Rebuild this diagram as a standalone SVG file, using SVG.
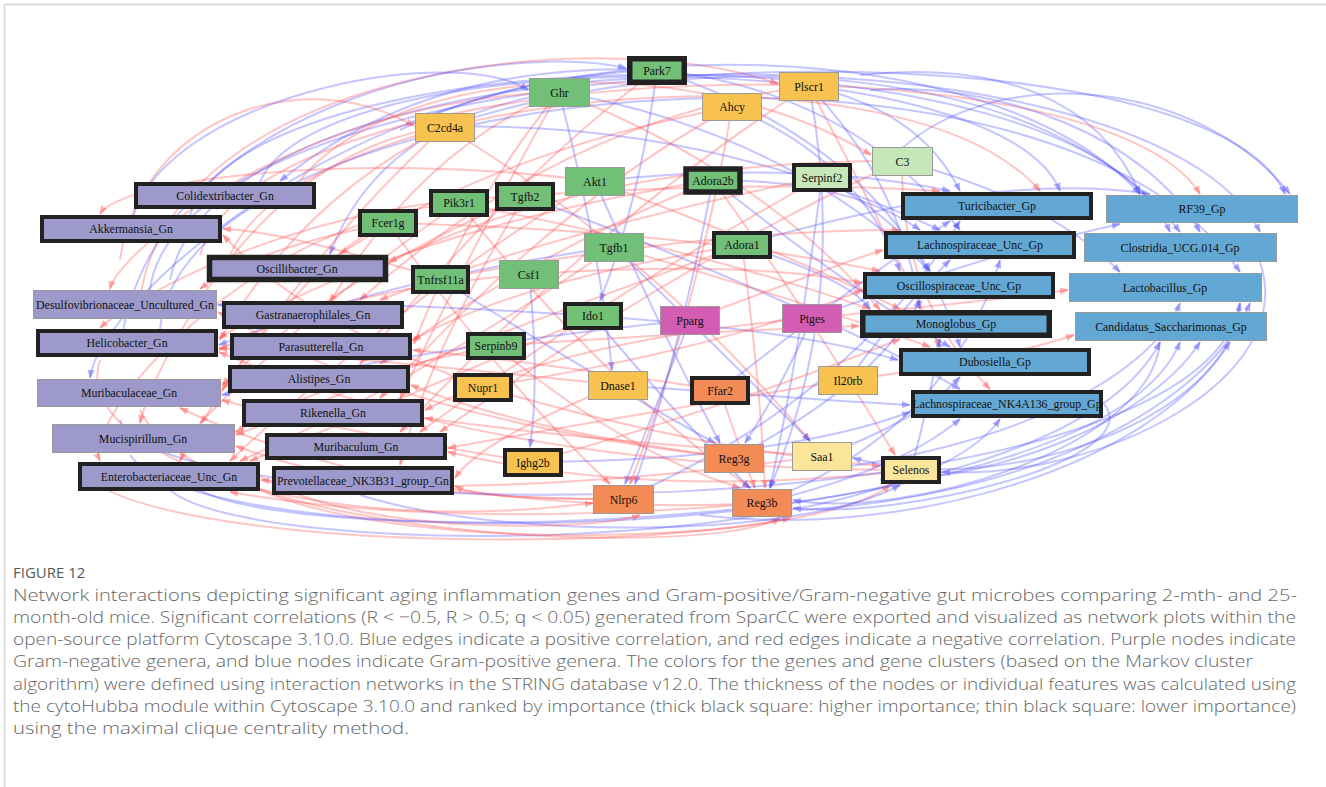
<svg xmlns="http://www.w3.org/2000/svg" width="1326" height="787" viewBox="0 0 1326 787">
<style>
.e{fill:none;stroke-width:2}
.r{stroke:#ff5050;stroke-opacity:0.33;marker-end:url(#ar)}
.b{stroke:#5050ff;stroke-opacity:0.33;marker-end:url(#ab)}
.thin{stroke:#9a9a9a;stroke-width:1}
.thick{stroke:#222;stroke-width:4}
.vthick{stroke:#222;stroke-width:5.5}
.pu{fill:#9d9acb}.bl{fill:#63a8d4}.gr{fill:#72bf78}.lg{fill:#c6e7b7}.or{fill:#f7c24f}.co{fill:#f28b55}.ly{fill:#fbe59b}.mg{fill:#d35db2}
.lb{font-family:"Liberation Serif","Times New Roman",serif;font-size:13.5px;text-anchor:middle;fill:#111;transform-box:fill-box;transform-origin:center;transform:scaleX(0.88)}
.cap{font-family:"Open Sans","Noto Sans",sans-serif;font-size:17px;font-weight:300;fill:#666}
.fig{font-family:"Open Sans","Noto Sans",sans-serif;font-size:15px;fill:#595959}
</style>
<defs>
<marker id="ar" viewBox="0 0 10 10" refX="9" refY="5" markerWidth="9" markerHeight="9" markerUnits="userSpaceOnUse" orient="auto"><path d="M0,1 L10,5 L0,9z" fill="#ff5050" fill-opacity="0.45"/></marker>
<marker id="ab" viewBox="0 0 10 10" refX="9" refY="5" markerWidth="9" markerHeight="9" markerUnits="userSpaceOnUse" orient="auto"><path d="M0,1 L10,5 L0,9z" fill="#5050ff" fill-opacity="0.45"/></marker>
</defs>
<rect width="1326" height="787" fill="#fff"/>
<path d="M4.5 787 V4.5 H1326" fill="none" stroke="#d4d4d4" stroke-width="1.5"/>
<g id="edges">
<path class="e r" d="M559 92 Q420 150 330 302"/>
<path class="e r" d="M559 92 Q470 200 414 344"/>
<path class="e r" d="M559 92 Q480 230 400 399"/>
<path class="e b" d="M559 92 Q780 130 930 271"/>
<path class="e r" d="M559 92 Q760 170 880 310"/>
<path class="e b" d="M559 92 Q600 250 612 370"/>
<path class="e b" d="M559 92 Q380 120 330 254"/>
<path class="e b" d="M657 70 Q430 60 280 181"/>
<path class="e b" d="M657 70 Q850 90 960 230"/>
<path class="e b" d="M657 70 Q640 200 600 301"/>
<path class="e r" d="M657 70 Q520 170 360 364"/>
<path class="e b" d="M657 70 Q900 150 960 347"/>
<path class="e r" d="M809 86 Q560 120 360 300"/>
<path class="e b" d="M809 86 Q920 110 960 191"/>
<path class="e b" d="M809 86 Q900 180 920 309"/>
<path class="e r" d="M809 86 Q600 220 400 432"/>
<path class="e b" d="M809 86 Q850 300 770 488"/>
<path class="e r" d="M809 86 Q880 220 940 347"/>
<path class="e r" d="M732 107 Q500 150 340 254"/>
<path class="e b" d="M732 107 Q860 160 900 271"/>
<path class="e r" d="M732 107 Q700 300 630 484"/>
<path class="e r" d="M732 107 Q560 200 380 398"/>
<path class="e r" d="M445 127 Q300 200 220 340"/>
<path class="e r" d="M445 127 Q330 230 222 390"/>
<path class="e b" d="M445 127 Q700 120 940 230"/>
<path class="e r" d="M445 127 Q650 250 810 441"/>
<path class="e r" d="M902 161 Q600 160 389 262"/>
<path class="e b" d="M902 161 Q1050 200 1120 272"/>
<path class="e r" d="M902 161 Q900 300 990 389"/>
<path class="e r" d="M902 161 Q700 250 440 432"/>
<path class="e r" d="M595 181 Q400 300 230 461"/>
<path class="e b" d="M595 181 Q800 160 950 191"/>
<path class="e r" d="M595 181 Q780 250 900 309"/>
<path class="e b" d="M595 181 Q660 330 720 443"/>
<path class="e r" d="M713 180 Q400 230 219 338"/>
<path class="e b" d="M713 180 Q850 180 920 230"/>
<path class="e b" d="M713 180 Q850 290 950 347"/>
<path class="e r" d="M713 180 Q820 330 895 455"/>
<path class="e r" d="M713 180 Q520 260 380 364"/>
<path class="e b" d="M713 180 Q680 350 635 484"/>
<path class="e r" d="M822 177 Q600 300 420 432"/>
<path class="e b" d="M822 177 Q900 220 930 271"/>
<path class="e r" d="M822 177 Q560 230 380 300"/>
<path class="e b" d="M822 177 Q800 350 770 488"/>
<path class="e r" d="M459 203 Q700 250 870 309"/>
<path class="e r" d="M459 203 Q320 300 200 423"/>
<path class="e r" d="M459 203 Q600 380 750 488"/>
<path class="e r" d="M525 196 Q330 280 222 385"/>
<path class="e r" d="M525 196 Q760 180 940 191"/>
<path class="e r" d="M525 196 Q430 350 400 465"/>
<path class="e b" d="M525 196 Q800 300 960 389"/>
<path class="e r" d="M388 223 Q680 230 880 271"/>
<path class="e r" d="M388 223 Q250 250 200 289"/>
<path class="e r" d="M388 223 Q500 380 610 484"/>
<path class="e b" d="M614 247 Q380 280 219 345"/>
<path class="e r" d="M614 247 Q800 300 930 347"/>
<path class="e b" d="M614 247 Q720 350 810 441"/>
<path class="e r" d="M614 247 Q420 380 240 461"/>
<path class="e r" d="M742 245 Q520 280 413 340"/>
<path class="e b" d="M742 245 Q850 280 870 309"/>
<path class="e r" d="M742 245 Q760 380 765 488"/>
<path class="e r" d="M742 245 Q450 350 236 435"/>
<path class="e b" d="M742 245 Q1000 170 1150 194"/>
<path class="e r" d="M440 279 Q700 230 900 230"/>
<path class="e r" d="M440 279 Q280 230 223 229"/>
<path class="e b" d="M440 279 Q600 380 715 443"/>
<path class="e r" d="M529 274 Q330 290 219 350"/>
<path class="e r" d="M529 274 Q750 260 862 283"/>
<path class="e b" d="M529 274 Q540 380 530 447"/>
<path class="e r" d="M593 316 Q400 400 250 461"/>
<path class="e b" d="M593 316 Q800 330 898 360"/>
<path class="e b" d="M593 316 Q350 300 218 305"/>
<path class="e b" d="M593 316 Q680 420 750 488"/>
<path class="e b" d="M690 320 Q400 350 222 395"/>
<path class="e r" d="M690 320 Q850 260 883 250"/>
<path class="e b" d="M690 320 Q650 420 625 484"/>
<path class="e r" d="M812 318 Q560 340 425 410"/>
<path class="e r" d="M812 318 Q1000 300 1068 290"/>
<path class="e b" d="M812 318 Q780 390 745 443"/>
<path class="e b" d="M812 318 Q1000 250 1120 224"/>
<path class="e r" d="M496 346 Q730 330 859 326"/>
<path class="e r" d="M496 346 Q320 380 236 432"/>
<path class="e r" d="M496 346 Q620 450 740 488"/>
<path class="e r" d="M483 387 Q300 320 223 235"/>
<path class="e r" d="M483 387 Q720 350 862 290"/>
<path class="e r" d="M483 387 Q700 450 880 466"/>
<path class="e r" d="M618 385 Q380 360 219 348"/>
<path class="e b" d="M618 385 Q820 400 910 405"/>
<path class="e r" d="M618 385 Q480 440 455 478"/>
<path class="e r" d="M720 390 Q520 360 413 350"/>
<path class="e b" d="M720 390 Q860 280 950 221"/>
<path class="e r" d="M720 390 Q740 450 755 488"/>
<path class="e r" d="M848 380 Q600 420 448 448"/>
<path class="e b" d="M848 380 Q900 310 950 260"/>
<path class="e r" d="M848 380 Q1000 360 1074 335"/>
<path class="e r" d="M533 462 Q750 400 900 339"/>
<path class="e r" d="M533 462 Q330 430 222 400"/>
<path class="e b" d="M533 462 Q780 460 910 412"/>
<path class="e r" d="M734 458 Q520 430 411 385"/>
<path class="e b" d="M734 458 Q880 380 920 300"/>
<path class="e r" d="M734 458 Q400 420 218 312"/>
<path class="e r" d="M822 456 Q500 500 261 480"/>
<path class="e b" d="M822 456 Q920 420 960 377"/>
<path class="e r" d="M822 456 Q580 440 425 418"/>
<path class="e r" d="M911 470 Q650 500 448 452"/>
<path class="e b" d="M911 470 Q930 400 940 339"/>
<path class="e r" d="M911 470 Q500 470 219 352"/>
<path class="e r" d="M623 499 Q480 500 455 486"/>
<path class="e b" d="M623 499 Q850 400 960 221"/>
<path class="e r" d="M623 499 Q380 500 236 446"/>
<path class="e r" d="M762 503 Q450 530 230 492"/>
<path class="e b" d="M762 503 Q950 430 1000 260"/>
<path class="e b" d="M762 503 Q900 470 960 419"/>
<path class="e r" d="M762 503 Q420 520 180 408"/>
<path class="e b" d="M150 290 C180 40 1200 0 1285 194"/>
<path class="e b" d="M170 280 C220 20 1150 10 1260 232"/>
<path class="e r" d="M200 255 C260 50 1100 30 1200 194"/>
<path class="e b" d="M190 215 C250 30 1080 20 1170 232"/>
<path class="e b" d="M260 182 C320 40 1000 40 1060 191"/>
<path class="e r" d="M230 255 C300 90 900 30 1040 191"/>
<path class="e b" d="M160 330 C180 80 1050 -10 1240 272"/>
<path class="e r" d="M140 300 C170 70 600 20 778 84"/>
<path class="e b" d="M120 350 C150 100 500 40 626 68"/>
<path class="e b" d="M400 130 C600 30 1000 40 1140 194"/>
<path class="e r" d="M300 180 C400 60 700 50 871 155"/>
<path class="e b" d="M900 150 C1000 60 1200 80 1290 194"/>
<path class="e b" d="M860 75 C1000 60 1100 100 1140 194"/>
<path class="e b" d="M870 90 C1000 80 1150 140 1200 232"/>
<path class="e r" d="M120 260 C140 120 300 60 414 126"/>
<path class="e b" d="M130 230 C150 100 450 40 528 90"/>
<path class="e b" d="M170 490 C250 560 900 560 1000 419"/>
<path class="e b" d="M130 455 C200 560 1050 560 1160 342"/>
<path class="e r" d="M80 470 C150 560 800 560 890 485"/>
<path class="e r" d="M140 410 C200 540 700 560 780 518"/>
<path class="e r" d="M260 490 C400 550 700 540 790 518"/>
<path class="e b" d="M360 495 C500 540 800 540 900 485"/>
<path class="e b" d="M200 490 C300 550 1100 540 1180 342"/>
<path class="e b" d="M120 420 C150 530 1200 540 1240 303"/>
<path class="e r" d="M250 470 C350 540 600 530 640 515"/>
<path class="e b" d="M880 480 C1000 480 1150 420 1200 342"/>
<path class="e b" d="M800 510 C1000 500 1200 420 1250 303"/>
<path class="e b" d="M820 470 C1000 450 1150 380 1180 303"/>
<path class="e b" d="M700 515 C900 540 1150 470 1230 342"/>
<path class="e r" d="M100 360 C70 450 300 540 593 503"/>
<path class="e b" d="M1104 404 C1150 460 900 520 793 508"/>
<path class="e b" d="M1160 342 C1150 450 900 520 793 500"/>
<path class="e b" d="M1240 303 C1230 420 1000 500 853 458"/>
<path class="e b" d="M1260 262 C1300 380 1100 480 942 472"/>
<path class="e r" d="M388 223 C300 260 200 420 180 461"/>
<path class="e r" d="M445 127 C250 150 150 380 140 423"/>
<path class="e r" d="M559 92 C300 100 120 250 110 289"/>
<path class="e r" d="M525 196 C300 200 130 300 100 328"/>
<path class="e b" d="M657 70 C350 80 100 300 90 378"/>
<path class="e r" d="M459 203 C250 220 80 420 100 461"/>
<path class="e r" d="M595 181 C350 150 120 180 100 214"/>
<path class="e b" d="M445 127 C700 40 1050 60 1180 232"/>
</g>
<g id="n-colidextribacter"><rect class="pu thick" x="136" y="184" width="178" height="23"/><text class="lb" x="225" y="200">Colidextribacter_Gn</text></g>
<g id="n-akkermansia"><rect class="pu thick" x="42" y="217" width="178" height="24"/><text class="lb" x="131" y="233">Akkermansia_Gn</text></g>
<g id="n-oscillibacter"><rect class="pu vthick" x="209.5" y="257.5" width="176" height="22"/><text class="lb" x="297" y="273">Oscillibacter_Gn</text></g>
<g id="n-desulfovibrionaceae"><rect class="pu thin" x="33.5" y="290.5" width="183" height="28"/><text class="lb" x="125" y="309">Desulfovibrionaceae_Uncultured_Gn</text></g>
<g id="n-gastranaerophilales"><rect class="pu thick" x="224" y="303" width="178" height="24"/><text class="lb" x="313" y="319">Gastranaerophilales_Gn</text></g>
<g id="n-helicobacter"><rect class="pu thick" x="38" y="331" width="178" height="24"/><text class="lb" x="127" y="347">Helicobacter_Gn</text></g>
<g id="n-parasutterella"><rect class="pu thick" x="232" y="335" width="178" height="23"/><text class="lb" x="321" y="351">Parasutterella_Gn</text></g>
<g id="n-alistipes"><rect class="pu thick" x="230" y="367" width="178" height="24"/><text class="lb" x="319" y="383">Alistipes_Gn</text></g>
<g id="n-muribaculaceae"><rect class="pu thin" x="37.5" y="379.5" width="183" height="27"/><text class="lb" x="129" y="397">Muribaculaceae_Gn</text></g>
<g id="n-rikenella"><rect class="pu thick" x="244" y="401" width="178" height="24"/><text class="lb" x="333" y="417">Rikenella_Gn</text></g>
<g id="n-mucispirillum"><rect class="pu thin" x="52.5" y="424.5" width="182" height="28"/><text class="lb" x="143" y="443">Mucispirillum_Gn</text></g>
<g id="n-muribaculum"><rect class="pu thick" x="267" y="435" width="178" height="23"/><text class="lb" x="356" y="451">Muribaculum_Gn</text></g>
<g id="n-enterobacteriaceae"><rect class="pu thick" x="80" y="464" width="178" height="25"/><text class="lb" x="169" y="481">Enterobacteriaceae_Unc_Gn</text></g>
<g id="n-prevotellaceae"><rect class="pu thick" x="274" y="468" width="178" height="25"/><text class="lb" x="363" y="485">Prevotellaceae_NK3B31_group_Gn</text></g>
<g id="n-turicibacter"><rect class="bl thick" x="903" y="194" width="188" height="24"/><text class="lb" x="997" y="210">Turicibacter_Gp</text></g>
<g id="n-rf39"><rect class="bl thin" x="1106.5" y="195.5" width="191" height="27"/><text class="lb" x="1202" y="213">RF39_Gp</text></g>
<g id="n-lachnospiraceae-unc"><rect class="bl thick" x="886" y="233" width="188" height="24"/><text class="lb" x="980" y="249">Lachnospiraceae_Unc_Gp</text></g>
<g id="n-clostridia"><rect class="bl thin" x="1084.5" y="233.5" width="192" height="28"/><text class="lb" x="1180" y="252">Clostridia_UCG.014_Gp</text></g>
<g id="n-oscillospiraceae"><rect class="bl thick" x="865" y="274" width="188" height="23"/><text class="lb" x="959" y="290">Oscillospiraceae_Unc_Gp</text></g>
<g id="n-lactobacillus"><rect class="bl thin" x="1069.5" y="273.5" width="192" height="28"/><text class="lb" x="1165" y="292">Lactobacillus_Gp</text></g>
<g id="n-monoglobus"><rect class="bl vthick" x="862.75" y="312.75" width="186.5" height="22.5"/><text class="lb" x="956" y="328">Monoglobus_Gp</text></g>
<g id="n-candidatus"><rect class="bl thin" x="1075.5" y="312.5" width="191" height="28"/><text class="lb" x="1171" y="331">Candidatus_Saccharimonas_Gp</text></g>
<g id="n-dubosiella"><rect class="bl thick" x="901" y="350" width="188" height="24"/><text class="lb" x="995" y="366">Dubosiella_Gp</text></g>
<g id="n-lachnospiraceae-nk4a136"><rect class="bl thick" x="913" y="392" width="188" height="24"/><text class="lb" x="1007" y="408">Lachnospiraceae_NK4A136_group_Gp</text></g>
<g id="n-park7"><rect class="gr vthick" x="629.75" y="58.75" width="54.5" height="23.5"/><text class="lb" x="657" y="75">Park7</text></g>
<g id="n-ghr"><rect class="gr thin" x="529.5" y="78.5" width="60" height="28"/><text class="lb" x="559.5" y="97">Ghr</text></g>
<g id="n-plscr1"><rect class="or thin" x="779.5" y="72.5" width="59" height="28"/><text class="lb" x="809" y="91">Plscr1</text></g>
<g id="n-ahcy"><rect class="or thin" x="702.5" y="93.5" width="59" height="27"/><text class="lb" x="732" y="111">Ahcy</text></g>
<g id="n-c2cd4a"><rect class="or thin" x="415.5" y="113.5" width="59" height="28"/><text class="lb" x="445" y="132">C2cd4a</text></g>
<g id="n-c3"><rect class="lg thin" x="872.5" y="147.5" width="60" height="28"/><text class="lb" x="902.5" y="166">C3</text></g>
<g id="n-akt1"><rect class="gr thin" x="565.5" y="167.5" width="59" height="28"/><text class="lb" x="595" y="186">Akt1</text></g>
<g id="n-adora2b"><rect class="gr vthick" x="686" y="169" width="54" height="23"/><text class="lb" x="713" y="185">Adora2b</text></g>
<g id="n-serpinf2"><rect class="lg thick" x="794" y="165" width="56" height="25"/><text class="lb" x="822" y="182">Serpinf2</text></g>
<g id="n-pik3r1"><rect class="gr thick" x="431" y="191" width="56" height="24"/><text class="lb" x="459" y="207">Pik3r1</text></g>
<g id="n-tgfb2"><rect class="gr thick" x="497" y="184" width="56" height="25"/><text class="lb" x="525" y="201">Tgfb2</text></g>
<g id="n-fcer1g"><rect class="gr thick" x="360" y="211" width="56" height="24"/><text class="lb" x="388" y="227">Fcer1g</text></g>
<g id="n-tgfb1"><rect class="gr thin" x="584.5" y="233.5" width="59" height="28"/><text class="lb" x="614" y="252">Tgfb1</text></g>
<g id="n-adora1"><rect class="gr thick" x="714" y="233" width="56" height="24"/><text class="lb" x="742" y="249">Adora1</text></g>
<g id="n-tnfrsf11a"><rect class="gr thick" x="413" y="267" width="55" height="25"/><text class="lb" x="440.5" y="284">Tnfrsf11a</text></g>
<g id="n-csf1"><rect class="gr thin" x="499.5" y="260.5" width="59" height="28"/><text class="lb" x="529" y="279">Csf1</text></g>
<g id="n-ido1"><rect class="gr thick" x="565" y="304" width="56" height="24"/><text class="lb" x="593" y="320">Ido1</text></g>
<g id="n-pparg"><rect class="mg thin" x="660.5" y="306.5" width="59" height="28"/><text class="lb" x="690" y="325">Pparg</text></g>
<g id="n-ptges"><rect class="mg thin" x="782.5" y="304.5" width="59" height="28"/><text class="lb" x="812" y="323">Ptges</text></g>
<g id="n-serpinb9"><rect class="gr thick" x="468" y="334" width="56" height="24"/><text class="lb" x="496" y="350">Serpinb9</text></g>
<g id="n-nupr1"><rect class="or thick" x="455" y="375" width="56" height="25"/><text class="lb" x="483" y="392">Nupr1</text></g>
<g id="n-dnase1"><rect class="or thin" x="588.5" y="371.5" width="59" height="28"/><text class="lb" x="618" y="390">Dnase1</text></g>
<g id="n-ffar2"><rect class="co thick" x="692" y="378" width="56" height="25"/><text class="lb" x="720" y="395">Ffar2</text></g>
<g id="n-il20rb"><rect class="or thin" x="818.5" y="366.5" width="59" height="28"/><text class="lb" x="848" y="385">Il20rb</text></g>
<g id="n-ighg2b"><rect class="or thick" x="505" y="450" width="56" height="25"/><text class="lb" x="533" y="467">Ighg2b</text></g>
<g id="n-reg3g"><rect class="co thin" x="704.5" y="444.5" width="59" height="28"/><text class="lb" x="734" y="463">Reg3g</text></g>
<g id="n-saa1"><rect class="ly thin" x="792.5" y="442.5" width="59" height="28"/><text class="lb" x="822" y="461">Saa1</text></g>
<g id="n-selenos"><rect class="ly thick" x="883" y="458" width="56" height="24"/><text class="lb" x="911" y="474">Selenos</text></g>
<g id="n-nlrp6"><rect class="co thin" x="593.5" y="485.5" width="60" height="28"/><text class="lb" x="623.5" y="504">Nlrp6</text></g>
<g id="n-reg3b"><rect class="co thin" x="732.5" y="489.5" width="59" height="27"/><text class="lb" x="762" y="507">Reg3b</text></g>
<g id="caption">
<text class="fig" x="13" y="578">FIGURE 12</text>
<text class="cap" x="13" y="601" textLength="1284" lengthAdjust="spacingAndGlyphs">Network interactions depicting significant aging inflammation genes and Gram-positive/Gram-negative gut microbes comparing 2-mth- and 25-</text>
<text class="cap" x="13" y="623" textLength="1283" lengthAdjust="spacingAndGlyphs">month-old mice. Significant correlations (R &lt; −0.5, R &gt; 0.5; q &lt; 0.05) generated from SparCC were exported and visualized as network plots within the</text>
<text class="cap" x="13" y="645" textLength="1283" lengthAdjust="spacingAndGlyphs">open-source platform Cytoscape 3.10.0. Blue edges indicate a positive correlation, and red edges indicate a negative correlation. Purple nodes indicate</text>
<text class="cap" x="13" y="667" textLength="1240" lengthAdjust="spacingAndGlyphs">Gram-negative genera, and blue nodes indicate Gram-positive genera. The colors for the genes and gene clusters (based on the Markov cluster</text>
<text class="cap" x="13" y="690" textLength="1283" lengthAdjust="spacingAndGlyphs">algorithm) were defined using interaction networks in the STRING database v12.0. The thickness of the nodes or individual features was calculated using</text>
<text class="cap" x="13" y="712" textLength="1283" lengthAdjust="spacingAndGlyphs">the cytoHubba module within Cytoscape 3.10.0 and ranked by importance (thick black square: higher importance; thin black square: lower importance)</text>
<text class="cap" x="13" y="734" textLength="396" lengthAdjust="spacingAndGlyphs">using the maximal clique centrality method.</text>
</g>
</svg>
